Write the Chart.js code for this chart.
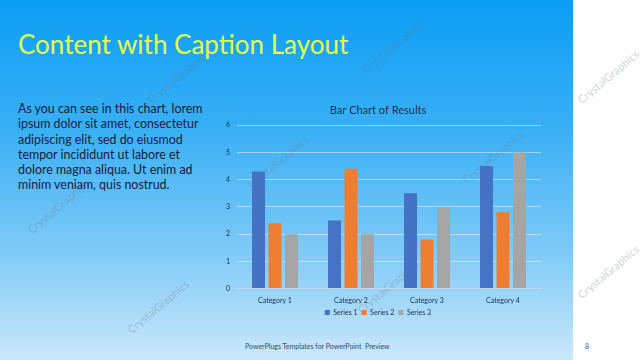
<!DOCTYPE html>
<html>
<head>
<meta charset="utf-8">
<script src="https://cdn.jsdelivr.net/npm/chart.js@4/dist/chart.umd.min.js"></script>
<style>
  html, body { margin: 0; padding: 0; }
  body { width: 640px; height: 360px; position: relative; overflow: hidden; background: #ffffff; font-family: Lato, "Open Sans", sans-serif; }
  #slide { position: absolute; left: 0; top: 0; width: 573px; height: 360px;
    background: linear-gradient(to bottom, #0b9ef4 0%, #38aff5 35%, #7fcaf7 70%, #cbe8fb 100%); }
  #title { position: absolute; left: 18px; top: 28px; font-size: 26px; color: #e4ff4a; white-space: nowrap; }
  #body { position: absolute; left: 18px; top: 101px; width: 190px; font-size: 12.4px; line-height: 15.3px; color: #16203a; }
  #footer { position: absolute; left: 245px; top: 342px; font-size: 7px; color: #3a4a5a; }
  #page { position: absolute; left: 585px; top: 342px; font-size: 7px; color: #555; }
  .wm { position: absolute; font-size: 11px; color: rgba(110,120,140,0.35); transform: rotate(-40deg); white-space: nowrap; }
  #chartBox { position: absolute; left: 215px; top: 98px; width: 345px; height: 236px; }
</style>
</head>
<body>
<div id="slide"></div>
<div class="wm" style="left:140px;top:70px;">CrystalGraphics</div>
<div class="wm" style="left:355px;top:40px;">CrystalGraphics</div>
<div class="wm" style="left:570px;top:70px;">CrystalGraphics</div>
<div class="wm" style="left:20px;top:200px;">CrystalGraphics</div>
<div class="wm" style="left:240px;top:155px;">CrystalGraphics</div>
<div class="wm" style="left:455px;top:150px;">CrystalGraphics</div>
<div class="wm" style="left:120px;top:300px;">CrystalGraphics</div>
<div class="wm" style="left:350px;top:280px;">CrystalGraphics</div>
<div class="wm" style="left:570px;top:265px;">CrystalGraphics</div>
<div id="title">Content with Caption Layout</div>
<div id="body">As you can see in this chart, lorem ipsum dolor sit amet, consectetur adipiscing elit, sed do eiusmod tempor incididunt ut labore et dolore magna aliqua. Ut enim ad minim veniam, quis nostrud.</div>
<div id="footer">PowerPlugs Templates for PowerPoint &nbsp;Preview</div>
<div id="page">8</div>
<div id="chartBox"><canvas id="chart"></canvas></div>
<script>
const categories = ['Category 1', 'Category 2', 'Category 3', 'Category 4'];
const series1 = [4.3, 2.5, 3.5, 4.5];
const series2 = [2.4, 4.4, 1.8, 2.8];
const series3 = [2, 2, 3, 5];
const yTicks = [0, 1, 2, 3, 4, 5, 6];

const textColor = '#1f2a44';

new Chart(document.getElementById('chart'), {
    type: 'bar',
    data: {
        labels: categories,
        datasets: [
            { label: 'Series 1', data: series1, backgroundColor: '#4472c4' },
            { label: 'Series 2', data: series2, backgroundColor: '#ed7d31' },
            { label: 'Series 3', data: series3, backgroundColor: '#a5a5a5' }
        ]
    },
    options: {
        responsive: true,
        maintainAspectRatio: false,
        animation: false,
        categoryPercentage: 0.65,
        barPercentage: 0.79,
        layout: { padding: { left: 0, right: 19, top: 0, bottom: 8 } },
        plugins: {
            title: {
                display: true,
                text: 'Bar Chart of Results',
                color: textColor,
                font: { family: 'Lato', size: 11, weight: 'normal' },
                padding: { top: 6, bottom: 8 }
            },
            legend: {
                position: 'bottom',
                labels: {
                    color: textColor,
                    font: { family: 'Lato', size: 7 },
                    boxWidth: 5,
                    boxHeight: 5,
                    padding: 4
                }
            },
            tooltip: { enabled: false }
        },
        scales: {
            x: {
                grid: { display: false },
                border: { color: 'rgba(200,215,230,0.9)' },
                ticks: { color: textColor, font: { family: 'Lato', size: 7 }, padding: 0 }
            },
            y: {
                min: 0,
                max: 6,
                afterBuildTicks: (axis) => { axis.ticks = yTicks.map(v => ({ value: v })); },
                afterFit: (axis) => { axis.width = 22; },
                grid: { color: 'rgba(255,255,255,0.45)', drawTicks: false },
                border: { display: false },
                ticks: { color: textColor, font: { family: 'Lato', size: 7 }, padding: 7 }
            }
        }
    }
});
</script>
</body>
</html>
